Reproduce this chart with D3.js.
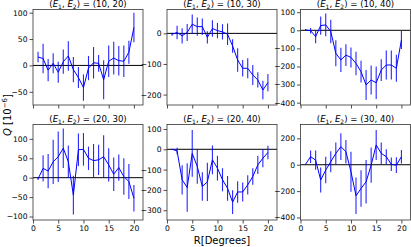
<!DOCTYPE html>
<html><head><meta charset="utf-8">
<script src="https://cdn.jsdelivr.net/npm/d3@7"></script>
<style>body{margin:0;background:#fff}svg{display:block}text{font-family:"DejaVu Sans",sans-serif}</style></head>
<body><svg id="c" width="411" height="247"></svg>
<script>
const R = [1,2,3,4,5,6,7,8,9,10,11,12,13,14,15,16,17,18,19,20];
const pairs = [[10,20],[10,30],[10,40],[20,30],[20,40],[30,40]];
const xTicks = [0,5,10,15,20];

const q1020 = [16,13,-9,4,-13,7,18,-8,-23,-42,-5,5,4,-27,8,14,9,8,25,72];
const e1020 = [10,28,21,19,20,23,28,24,20,25,23,30,16,37,30,31,28,30,22,28];
const q1030 = [-3,3,-8,3,30,22,22,-13,16,9,5,-3,-41,-87,-114,-114,-136,-152,-185,-161];
const e1030 = [5,22,25,28,32,30,27,20,27,25,25,35,22,38,27,33,33,25,30,28];
const q1040 = [2,-2,-35,26,30,-7,-127,-164,-137,-150,-183,-229,-302,-275,-290,-220,-192,-192,-210,-54];
const e1040 = [5,15,37,50,63,65,72,67,60,55,65,60,83,80,90,60,80,80,75,50];
const q2030 = [-3,24,17,41,54,76,41,-45,72,73,50,44,46,54,33,9,26,3,-10,-53];
const e2030 = [3,34,44,57,65,51,42,50,42,42,30,43,39,55,43,43,34,47,45,34];
const q2040 = [0,-8,-150,-188,-20,-85,-183,-160,-52,-93,-150,-192,-260,-210,-210,-175,-134,-77,-44,-16];
const e2040 = [3,16,72,119,115,84,70,94,71,61,57,61,59,53,47,47,41,45,45,33];
const q3040 = [3,61,35,-116,-40,23,86,137,99,-53,-235,-180,-129,-3,150,86,61,3,-3,61];
const e3040 = [3,47,73,95,101,80,82,101,89,152,139,139,165,133,114,82,57,51,59,51];

const yDomains = [[-75,106],[-234,78],[-413,115],[-109,137],[-348,122],[-419,305]];
const yTicks = [[-50,0,50,100],[-200,-100,0],[-400,-300,-200,-100,0,100],[-100,-50,0,50,100],[-300,-200,-100,0,100],[-400,-200,0,200]];
const series = [[q1020,e1020],[q1030,e1030],[q1040,e1040],[q2030,e2030],[q2040,e2040],[q3040,e3040]];

const svg = d3.select("#c");
const lefts = [33, 167, 300.5], tops = [9.5, 124.5], W = 110, H = 95.5;
const blue = "#0000ff";

series.forEach((s, k) => {
  const col = k % 3, row = Math.floor(k / 3);
  const g = svg.append("g").attr("transform", `translate(${lefts[col]},${tops[row]})`);
  const x = d3.scaleLinear().domain([0, 21.8]).range([0, W]);
  const y = d3.scaleLinear().domain(yDomains[k]).range([H, 0]);
  const [vals, errs] = s;

  g.append("line").attr("x1", 0).attr("x2", W).attr("y1", y(0)).attr("y2", y(0))
    .attr("stroke", "#000").attr("stroke-width", 1);

  g.selectAll("line.eb").data(R).join("line").attr("class", "eb")
    .attr("x1", (d) => x(d)).attr("x2", (d) => x(d))
    .attr("y1", (d, i) => y(vals[i] - errs[i])).attr("y2", (d, i) => y(vals[i] + errs[i]))
    .attr("stroke", blue).attr("stroke-width", 1.1).attr("stroke-opacity", 0.85);

  g.append("path").datum(R)
    .attr("d", d3.line().x((d) => x(d)).y((d, i) => y(vals[i])))
    .attr("fill", "none").attr("stroke", blue).attr("stroke-width", 1);

  const ax = d3.axisLeft(y).tickValues(yTicks[k]).tickSize(3.5).tickPadding(2).tickFormat(d3.format("d"));
  const ya = g.append("g").call(ax);
  const xb = d3.axisBottom(x).tickValues(xTicks).tickSize(3.5).tickPadding(2);
  if (row === 0) xb.tickFormat("");
  const xa = g.append("g").attr("transform", `translate(0,${H})`).call(xb);
  [ya, xa].forEach(a => {
    a.select(".domain").remove();
    a.selectAll("line").attr("stroke", "#222").attr("stroke-width", 0.8);
    a.selectAll("text").attr("font-size", 7.6).attr("fill", "#000").attr("font-family", "DejaVu Sans");
  });

  g.append("rect").attr("width", W).attr("height", H).attr("fill", "none")
    .attr("stroke", "#333").attr("stroke-width", 0.8);

  const t = g.append("text").attr("x", W / 2).attr("y", -2.5).attr("text-anchor", "middle").attr("font-size", 8.6);
  t.append("tspan").text("(");
  t.append("tspan").attr("font-style", "italic").text("E");
  t.append("tspan").attr("font-size", 6).attr("dy", 1.8).text("1");
  t.append("tspan").attr("dy", -1.8).text(", ");
  t.append("tspan").attr("font-style", "italic").text("E");
  t.append("tspan").attr("font-size", 6).attr("dy", 1.8).text("2");
  t.append("tspan").attr("dy", -1.8).text(`) = (${pairs[k][0]}, ${pairs[k][1]})`);
});

const yl = svg.append("text").attr("transform", "translate(11,115) rotate(-90)")
  .attr("text-anchor", "middle").attr("font-size", 10);
yl.append("tspan").attr("font-style", "italic").text("Q");
yl.append("tspan").text(" [10");
yl.append("tspan").attr("font-size", 7).attr("dy", -4).text("\u22126");
yl.append("tspan").attr("dy", 4).text("]");

svg.append("text").attr("x", 222).attr("y", 244).attr("text-anchor", "middle")
  .attr("font-size", 10).text("R[Degrees]");
</script>
</body></html>
